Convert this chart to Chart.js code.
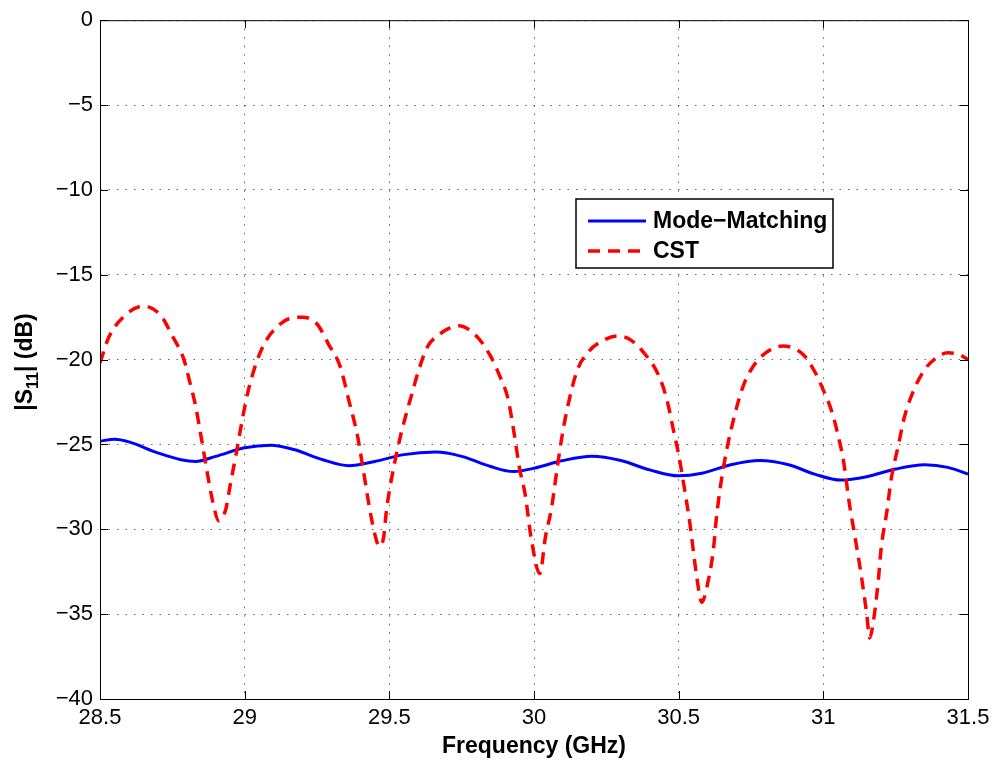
<!DOCTYPE html>
<html>
<head>
<meta charset="utf-8">
<script src="https://cdn.jsdelivr.net/npm/chart.js@4/dist/chart.umd.min.js"></script>
<style>
  html, body { margin: 0; padding: 0; background: #fff; }
  #wrap { width: 998px; height: 762px; }
</style>
</head>
<body>
<div id="wrap"><canvas id="s11Chart" width="998" height="762"></canvas></div>
<script>
/* ---------------------------
   Data
--------------------------- */
const mmFreq = [28.50, 28.55, 28.60, 28.70, 28.78, 28.83, 28.90, 29.00, 29.09, 29.17,
  29.27, 29.36, 29.45, 29.55, 29.66, 29.75, 29.85, 29.93, 30.00, 30.10,
  30.20, 30.30, 30.40, 30.50, 30.58, 30.68, 30.78, 30.88, 30.97, 31.06,
  31.15, 31.25, 31.35, 31.43, 31.50];
const mmDb = [-24.8, -24.7, -24.85, -25.5, -25.9, -26.0, -25.7, -25.2, -25.05, -25.3,
  -25.9, -26.25, -26.0, -25.6, -25.45, -25.7, -26.3, -26.6, -26.4, -25.95,
  -25.7, -25.95, -26.5, -26.85, -26.7, -26.2, -25.95, -26.2, -26.75, -27.1,
  -26.9, -26.45, -26.2, -26.35, -26.75];

const cstFreq = [28.50, 28.53, 28.58, 28.65, 28.71, 28.75, 28.79, 28.81, 28.83, 28.85,
  28.87, 28.89, 28.91, 28.935, 28.95, 28.97, 28.99, 29.01, 29.04, 29.07,
  29.11, 29.16, 29.20, 29.25, 29.29, 29.33, 29.36, 29.39, 29.41, 29.43,
  29.45, 29.465, 29.48, 29.49, 29.51, 29.54, 29.56, 29.58, 29.60, 29.63,
  29.67, 29.74, 29.80, 29.85, 29.88, 29.91, 29.93, 29.95, 29.97, 29.99,
  30.02, 30.04, 30.06, 30.08, 30.10, 30.12, 30.15, 30.19, 30.23, 30.29,
  30.33, 30.38, 30.43, 30.46, 30.48, 30.50, 30.52, 30.54, 30.56, 30.58,
  30.60, 30.62, 30.63, 30.645, 30.665, 30.69, 30.72, 30.75, 30.79, 30.86,
  30.93, 30.97, 31.00, 31.03, 31.05, 31.07, 31.09, 31.11, 31.13, 31.15,
  31.16, 31.175, 31.19, 31.20, 31.22, 31.235, 31.26, 31.28, 31.31, 31.35,
  31.39, 31.43, 31.47, 31.50];
const cstDb = [-20.2, -18.7, -17.5, -16.85, -17.4, -18.6, -20.0, -21.3, -22.7, -24.6,
  -26.6, -28.4, -29.5, -28.8, -27.4, -25.6, -23.7, -22.0, -20.2, -19.0,
  -18.1, -17.55, -17.5, -17.9, -19.1, -20.4, -22.4, -24.5, -26.5, -28.6,
  -30.3, -31.0, -30.5, -28.9, -26.8, -24.4, -23.1, -21.9, -20.7, -19.3,
  -18.55, -18.0, -18.6, -19.8, -20.9, -22.3, -24.2, -26.4, -28.0, -30.5,
  -32.6, -30.4, -28.8, -26.4, -24.2, -22.5, -20.6, -19.5, -18.95, -18.6,
  -18.8, -19.6, -20.9, -22.4, -24.0, -25.6, -27.6, -29.8, -32.5, -34.3,
  -33.2, -31.2, -29.4, -27.4, -25.4, -23.5, -21.7, -20.6, -19.75, -19.2,
  -19.7, -20.7, -21.8, -23.1, -24.4, -26.0, -28.5, -30.5, -32.6, -35.0,
  -36.4, -35.2, -33.0, -31.1, -28.9, -27.0, -25.0, -23.4, -21.9, -20.6,
  -19.9, -19.6, -19.7, -20.0];

const xTicks = [28.5, 29, 29.5, 30, 30.5, 31, 31.5];
const yTicks = [0, -5, -10, -15, -20, -25, -30, -35, -40];

const seriesNames = ["Mode\u2212Matching", "CST"];
const FONT = "'Liberation Sans', Arial, Helvetica, sans-serif";

function toPoints(xs, ys) {
  return xs.map((x, i) => ({ x, y: ys[i] }));
}

function fmtTick(v) {
  return String(v).replace("-", "\u2212");
}

/* ---------------------------
   Frame, inward ticks, titles, legend
--------------------------- */
const matlabDecor = {
  id: "matlabDecor",
  afterDraw(chart) {
    const { ctx, chartArea: a, scales } = chart;
    ctx.save();

    // box
    ctx.strokeStyle = "#000";
    ctx.lineWidth = 1;
    ctx.strokeRect(a.left + 0.5, a.top + 0.5, a.right - a.left, a.bottom - a.top);

    // inward ticks on all sides
    const tl = 8;
    ctx.beginPath();
    xTicks.forEach(v => {
      const px = Math.round(scales.x.getPixelForValue(v)) + 0.5;
      ctx.moveTo(px, a.bottom); ctx.lineTo(px, a.bottom - tl);
      ctx.moveTo(px, a.top); ctx.lineTo(px, a.top + tl);
    });
    yTicks.forEach(v => {
      const py = Math.round(scales.y.getPixelForValue(v)) + 0.5;
      ctx.moveTo(a.left, py); ctx.lineTo(a.left + tl, py);
      ctx.moveTo(a.right, py); ctx.lineTo(a.right - tl, py);
    });
    ctx.stroke();

    // x title
    ctx.fillStyle = "#000";
    ctx.font = "bold 23px " + FONT;
    ctx.textAlign = "center";
    ctx.textBaseline = "alphabetic";
    ctx.fillText("Frequency (GHz)", (a.left + a.right) / 2, 753);

    // y title with subscript
    ctx.save();
    ctx.translate(32, 362);
    ctx.rotate(-Math.PI / 2);
    ctx.textAlign = "left";
    const big = "bold 23px " + FONT;
    const small = "bold 16px " + FONT;
    const parts = [["|S", big, 0], ["11", small, 6], ["| (dB)", big, 0]];
    let total = 0;
    parts.forEach(p => { ctx.font = p[1]; total += ctx.measureText(p[0]).width; });
    let cx = -total / 2;
    parts.forEach(p => {
      ctx.font = p[1];
      ctx.fillText(p[0], cx, p[2]);
      cx += ctx.measureText(p[0]).width;
    });
    ctx.restore();

    // legend box
    const lx = 576, ly = 199, lw = 257, lh = 69;
    ctx.fillStyle = "#fff";
    ctx.fillRect(lx, ly, lw, lh);
    ctx.strokeStyle = "#000";
    ctx.lineWidth = 1.5;
    ctx.strokeRect(lx, ly, lw, lh);

    const rows = [221, 251];
    chart.data.datasets.forEach((ds, i) => {
      ctx.beginPath();
      ctx.strokeStyle = ds.borderColor;
      ctx.lineWidth = ds.borderWidth;
      ctx.setLineDash(ds.borderDash || []);
      ctx.moveTo(588, rows[i]);
      ctx.lineTo(646, rows[i]);
      ctx.stroke();
      ctx.setLineDash([]);
      ctx.fillStyle = "#000";
      ctx.font = "bold 23px " + FONT;
      ctx.textAlign = "left";
      ctx.textBaseline = "middle";
      ctx.fillText(ds.label, 653, rows[i] + 1);
    });

    ctx.restore();
  }
};

/* ---------------------------
   Chart
--------------------------- */
const ctx = document.getElementById("s11Chart").getContext("2d");

new Chart(ctx, {
  type: "line",
  data: {
    datasets: [
      {
        label: seriesNames[0],
        data: toPoints(mmFreq, mmDb),
        borderColor: "#0000ff",
        borderWidth: 3,
        pointRadius: 0,
        fill: false,
        cubicInterpolationMode: "monotone",
        order: 1
      },
      {
        label: seriesNames[1],
        data: toPoints(cstFreq, cstDb),
        borderColor: "#ff0000",
        borderWidth: 3.5,
        borderDash: [12, 8],
        pointRadius: 0,
        fill: false,
        cubicInterpolationMode: "monotone",
        order: 0
      }
    ]
  },
  options: {
    responsive: false,
    animation: false,
    devicePixelRatio: 1,
    layout: { padding: { top: 16, right: 30, left: 0, bottom: 0 } },
    plugins: {
      legend: { display: false },
      tooltip: { enabled: false }
    },
    scales: {
      x: {
        type: "linear",
        min: 28.5,
        max: 31.5,
        afterBuildTicks(scale) { scale.ticks = xTicks.map(v => ({ value: v })); },
        afterFit(scale) { scale.height = 63; },
        ticks: {
          callback: v => fmtTick(v),
          font: { family: FONT, size: 22 },
          color: "#000",
          padding: 6,
          maxRotation: 0,
          autoSkip: false
        },
        grid: { color: "rgba(0,0,0,0.6)", lineWidth: 1, drawTicks: false },
        border: { display: false, dash: [1.5, 7] }
      },
      y: {
        type: "linear",
        min: -40,
        max: 0,
        afterBuildTicks(scale) { scale.ticks = yTicks.map(v => ({ value: v })); },
        afterFit(scale) { scale.width = 100; },
        ticks: {
          callback: v => fmtTick(v),
          font: { family: FONT, size: 22 },
          color: "#000",
          padding: 7,
          autoSkip: false
        },
        grid: { color: "rgba(0,0,0,0.6)", lineWidth: 1, drawTicks: false },
        border: { display: false, dash: [1.5, 7] }
      }
    }
  },
  plugins: [matlabDecor]
});
</script>
</body>
</html>
